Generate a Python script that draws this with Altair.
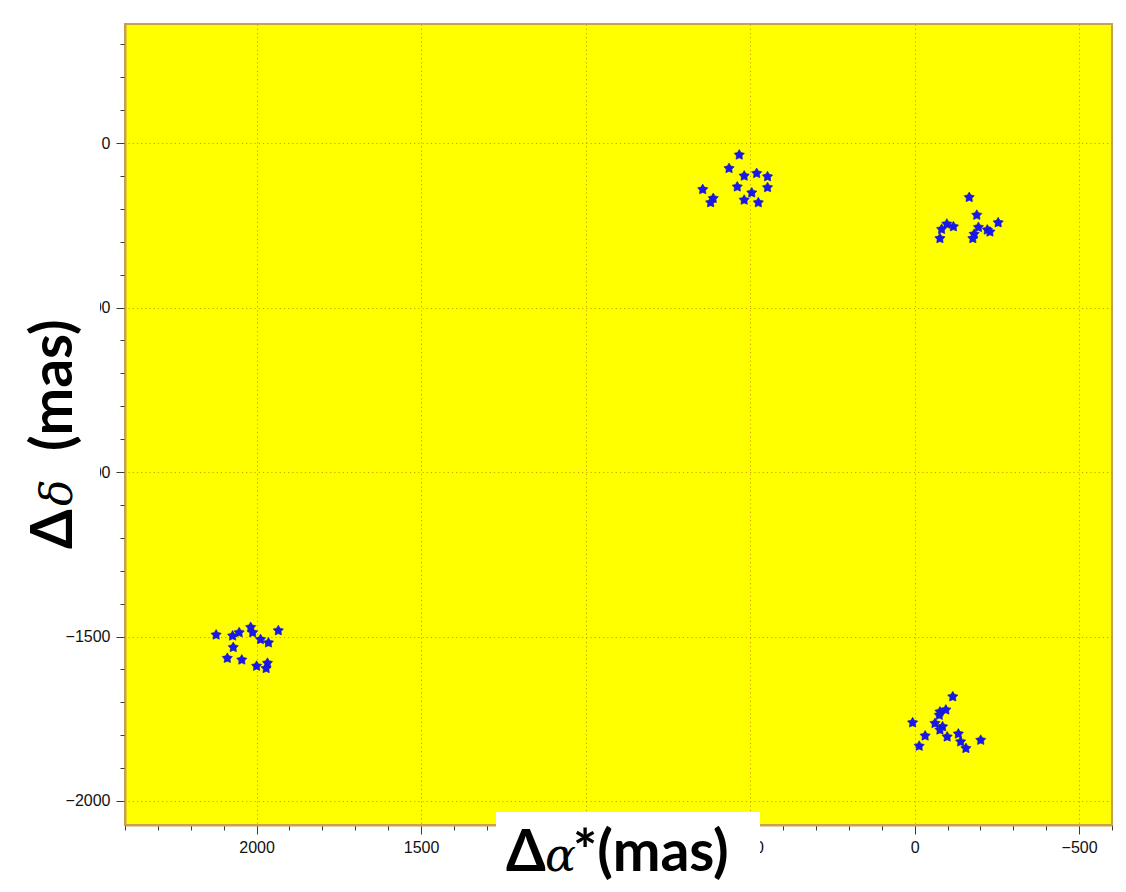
import altair as alt
import pandas as pd

# Offsets (mas)
ra_offsets = [
    # cluster near (500, -150)
    533, 564, 518, 480, 447, 539, 447, 495, 644, 612, 620, 518, 475,
    # cluster near (-170, -250)
    -166, -189, -254, -98, -118, -82, -194, -221, -181, -77, -177, -229,
    # cluster near (2030, -1530)
    2123, 2073, 2053, 2018, 2012, 1988, 1964, 1934, 2071, 2089, 2045, 2000, 1967, 1971,
    # cluster near (-90, -1780)
    -116, -77, -95, -75, 6, -62, -85, -77, -32, -99, -133, -140, -14, -156, -201,
]
dec_offsets = [
    -36, -77, -100, -92, -102, -133, -135, -151, -141, -168, -181, -173, -181,
    -165, -219, -242, -246, -254, -262, -256, -264, -277, -290, -290, -270,
    -1495, -1498, -1488, -1472, -1488, -1509, -1519, -1482, -1533, -1566, -1571, -1590, -1581, -1597,
    -1683, -1729, -1723, -1739, -1762, -1764, -1774, -1784, -1802, -1805, -1796, -1820, -1833, -1840, -1815,
]

x_major = [2000, 1500, 1000, 500, 0, -500]
y_major = [0, -500, -1000, -1500, -2000]
x_minor = list(range(-600, 2401, 100))
y_minor = list(range(-2000, 301, 100))

df = pd.DataFrame({"ra": ra_offsets, "dec": dec_offsets})

STAR = ("M0,-1 L0.32,-0.44 L0.951,-0.309 L0.52,0.17 L0.588,0.809 "
        "L0,0.55 L-0.588,0.809 L-0.52,0.17 L-0.951,-0.309 L-0.32,-0.44 Z")

xscale = alt.Scale(domain=[-600, 2400], reverse=True, nice=False, zero=False)
yscale = alt.Scale(domain=[-2073, 362], nice=False, zero=False)

label_font = "Liberation Sans"
tick_col = "#3a3a3a"
grid_col = "#b88400"

points = alt.Chart(df).mark_point(
    shape=STAR, filled=True, color="#1818ee", size=115, opacity=1,
    stroke="#1010c0", strokeWidth=0.6
).encode(
    x=alt.X("ra:Q", scale=xscale, axis=alt.Axis(
        orient="bottom", values=x_major, title=None, grid=True, format="d",
        gridColor=grid_col, gridDash=[1.2, 3], gridOpacity=0.75, gridWidth=1,
        tickSize=9, tickColor=tick_col, labelFont=label_font, labelFontSize=16,
        labelColor="#111", labelPadding=5, domainColor="#c8a050", domainWidth=2,
        labelFlush=False)),
    y=alt.Y("dec:Q", scale=yscale, axis=alt.Axis(
        orient="left", values=y_major, title=None, grid=True, format="d",
        gridColor=grid_col, gridDash=[1.2, 3], gridOpacity=0.75, gridWidth=1,
        tickSize=9, tickColor=tick_col, labelFont=label_font, labelFontSize=16,
        labelColor="#111", labelPadding=6, domainColor="#c8a050", domainWidth=2,
        labelFlush=False)),
)

minor = alt.Chart(df).mark_point(opacity=0).encode(
    x=alt.X("ra:Q", scale=xscale, axis=alt.Axis(
        orient="bottom", values=x_minor, labels=False, title=None, grid=False,
        domain=False, tickSize=5, tickColor=tick_col)),
    y=alt.Y("dec:Q", scale=yscale, axis=alt.Axis(
        orient="left", values=y_minor, labels=False, title=None, grid=False,
        domain=False, tickSize=5, tickColor=tick_col)),
)

data_layer = alt.layer(minor, points).resolve_axis(x="independent", y="independent")

one = alt.Data(values=[{"k": 0}])

# white boxes behind the big axis titles
box_y = alt.Chart(one).mark_rect(color="white").encode(
    x=alt.value(-121), x2=alt.value(-25), y=alt.value(240), y2=alt.value(580))
box_x = alt.Chart(one).mark_rect(color="white").encode(
    x=alt.value(371), x2=alt.value(635), y=alt.value(788), y2=alt.value(870))

bold = dict(font="Lato", fontWeight="bold", fontSize=57, color="black",
            align="left", baseline="alphabetic")
ital = dict(font="DejaVu Serif", fontStyle="italic", fontWeight="normal",
            fontSize=46, color="black", align="left", baseline="alphabetic")

# x title: Δα*(mas)
xt1 = alt.Chart(one).mark_text(text="Δ", **bold).encode(x=alt.value(381), y=alt.value(847))
xt2 = alt.Chart(one).mark_text(text="α", **ital).encode(x=alt.value(420), y=alt.value(847))
xt3 = alt.Chart(one).mark_text(text="*(mas)", **bold).encode(x=alt.value(448), y=alt.value(847))

# y title: Δδ (mas), rotated
yt1 = alt.Chart(one).mark_text(text="Δ", angle=270, **bold).encode(x=alt.value(-53), y=alt.value(525))
yt2 = alt.Chart(one).mark_text(text="δ", angle=270, **dict(ital, fontSize=44)).encode(
    x=alt.value(-53), y=alt.value(482))
yt3 = alt.Chart(one).mark_text(text="(mas)", angle=270, **bold).encode(x=alt.value(-53), y=alt.value(427))

chart = alt.layer(
    data_layer, box_y, box_x, xt1, xt2, xt3, yt1, yt2, yt3
).properties(
    width=987, height=801,
    autosize=alt.AutoSizeParams(type="none"),
    padding={"left": 117, "top": 16, "right": 6, "bottom": 60},
    background="white",
).configure_view(fill="#ffff00", stroke="#c8a050", strokeWidth=2)

chart.save("out.html", embed_options={"renderer": "svg", "actions": False})
